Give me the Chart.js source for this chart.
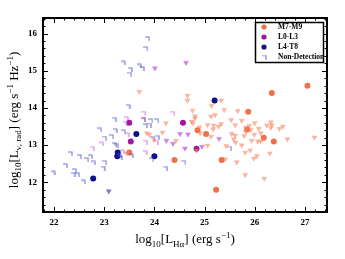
<!DOCTYPE html>
<html>
<head>
<meta charset="utf-8">
<script src="https://cdn.jsdelivr.net/npm/chart.js@4.4.1/dist/chart.umd.min.js"></script>
<style>
  html, body { margin: 0; padding: 0; background: #fff; }
  #wrap { width: 345px; height: 259px; }
</style>
</head>
<body>
<div id="wrap"><canvas id="radioChart" width="345" height="259"></canvas></div>
<script>
// ---- data: [log L_Halpha, log L_nu,rad] ----
const xTicks = [22, 23, 24, 25, 26, 27];
const yTicks = [12, 13, 14, 15, 16];

const m7m9Det = [
  [23.50, 12.80], [24.40, 12.60], [24.86, 13.40], [25.03, 13.30], [25.34, 12.60],
  [25.23, 11.80], [25.87, 13.90], [25.85, 13.42], [26.34, 14.40], [26.18, 13.20],
  [26.38, 13.10], [27.05, 14.60]
];
const l0l3Det = [[23.50, 13.60], [23.53, 13.10], [24.57, 13.60], [24.84, 12.90]];
const l4t8Det = [[22.78, 12.10], [23.27, 12.80], [23.26, 12.70], [23.64, 13.30], [24.00, 12.70], [25.20, 14.20]];

// upper limits (radio non-detections)
const m7m9Lim = [
  [23.70, 14.44], [24.66, 14.33], [24.66, 14.20], [25.33, 14.20], [25.14, 14.06], [25.39, 13.95],
  [24.76, 13.93], [25.66, 13.92], [24.81, 13.78], [25.13, 13.77], [25.21, 13.81], [24.81, 13.72],
  [24.74, 13.63], [24.77, 13.59], [25.33, 13.57], [25.28, 13.50], [25.17, 13.43], [25.06, 13.54],
  [24.90, 13.48], [24.91, 13.32], [24.23, 13.59], [24.16, 13.34], [23.85, 13.32], [23.90, 13.28],
  [23.99, 13.14], [24.43, 13.12], [25.06, 12.99], [25.41, 12.62], [25.64, 12.54], [25.53, 13.68],
  [25.61, 13.54], [25.54, 13.30], [25.61, 13.26], [25.58, 13.16], [25.62, 13.07], [25.43, 12.98],
  [25.13, 13.23], [25.18, 13.53], [25.74, 13.66], [26.00, 13.59], [25.89, 13.52], [25.82, 13.47],
  [25.92, 13.41], [25.82, 13.36], [26.08, 13.44], [26.24, 13.53], [26.32, 13.62], [26.34, 13.54],
  [26.32, 13.47], [26.49, 13.44], [26.56, 13.50], [25.79, 13.25], [25.99, 13.28], [26.12, 13.32],
  [25.94, 13.12], [26.06, 13.10], [26.12, 13.10], [26.65, 13.16], [27.19, 13.21], [25.74, 13.00],
  [25.91, 12.86], [25.81, 12.80], [26.04, 12.71], [25.98, 12.64], [26.30, 12.78], [25.81, 12.20],
  [26.19, 12.10], [24.84, 12.85], [23.45, 12.78]
];
const l0l3LimTri = [
  [24.63, 15.22], [24.01, 15.07], [24.24, 13.12], [24.37, 13.04], [24.51, 13.30],
  [24.67, 13.29], [24.61, 12.91], [24.95, 12.96], [25.29, 13.17]
];
const l0l3LimCorner = [
  [23.44, 13.71], [23.42, 13.59], [23.79, 13.86], [23.79, 13.68], [22.95, 13.03], [23.82, 13.08],
  [24.04, 13.08], [23.82, 12.79], [22.76, 12.92], [24.37, 13.86], [23.46, 13.28], [23.36, 12.82]
];
const l4t8LimCorner = [
  [23.87, 15.87], [23.83, 15.60], [23.38, 15.21], [23.70, 15.13], [23.76, 15.06], [23.52, 15.04],
  [23.51, 14.91], [23.48, 14.04], [23.20, 13.70], [22.91, 13.41], [23.22, 13.39], [23.01, 13.19],
  [23.15, 13.23], [23.20, 13.01], [23.24, 13.00], [22.33, 12.77], [22.51, 12.69], [22.65, 12.61],
  [22.73, 12.69], [22.79, 12.52], [23.01, 12.54], [22.98, 12.38], [22.23, 12.45], [22.41, 12.32],
  [22.38, 12.21], [22.47, 12.21], [22.59, 12.01], [21.98, 12.25], [23.32, 12.67], [23.39, 13.36],
  [23.54, 12.71], [23.78, 13.70], [23.93, 13.66], [24.05, 13.66], [23.82, 13.52], [23.90, 13.54],
  [24.06, 13.21], [23.97, 13.18], [23.95, 12.61], [24.22, 12.38], [24.59, 12.54], [25.50, 12.92],
  [23.30, 12.72]
];
const l4t8LimTri = [[23.09, 11.76]];

const colM = '#f0704a', colL0 = '#a0189e', colL4 = '#10108a';
const limM = 'rgba(248,128,90,0.55)', limL0 = 'rgba(180,60,200,0.6)', limL4 = 'rgba(70,70,200,0.7)';

const pts = arr => arr.map(p => ({ x: p[0], y: p[1] }));

// corner-shaped upper-limit marker
function cornerMark(color) {
  const c = document.createElement('canvas');
  c.width = 5; c.height = 5;
  const g = c.getContext('2d');
  g.strokeStyle = color;
  g.lineWidth = 1.2;
  g.beginPath();
  g.moveTo(0, 1); g.lineTo(4, 1); g.lineTo(4, 5);
  g.stroke();
  return c;
}
const cornerL4 = cornerMark(limL4), cornerL0 = cornerMark(limL0);

function triSet(data, color) {
  return { data: pts(data), pointStyle: 'triangle', rotation: 180, radius: 2.8,
    backgroundColor: color, borderColor: color, borderWidth: 0.5 };
}
function cornerSet(data, img) {
  return { data: pts(data), pointStyle: img, radius: 3 };
}
function dotSet(data, color) {
  return { data: pts(data), pointStyle: 'circle', radius: 3,
    backgroundColor: color, borderColor: color, borderWidth: 0 };
}

function rich(ctx, parts, big, small) {
  let w = 0;
  parts.forEach(p => {
    ctx.font = (p[1] ? small : big) + 'px "Liberation Serif", "DejaVu Serif", serif';
    p.w = ctx.measureText(p[0]).width; w += p.w;
  });
  let x = -w / 2;
  parts.forEach(p => {
    ctx.font = (p[1] ? small : big) + 'px "Liberation Serif", "DejaVu Serif", serif';
    const dy = p[1] === 'sub' ? 3.5 : (p[1] === 'sup' ? -5 : 0);
    ctx.fillText(p[0], x, dy);
    x += p.w;
  });
}

const decor = {
  id: 'decor',
  afterDraw(chart) {
    const ctx = chart.ctx, a = chart.chartArea;
    const sx = chart.scales.x, sy = chart.scales.y;
    ctx.save();
    ctx.strokeStyle = '#000';
    ctx.lineWidth = 1;
    ctx.beginPath();
    // inward ticks on all four sides
    for (let v = 21.8; v <= 27.45; v += 0.2) {
      const major = Math.abs(v - Math.round(v)) < 0.01;
      const len = major ? 5 : 2.5;
      const px = Math.round(sx.getPixelForValue(v)) + 0.5;
      ctx.moveTo(px, a.bottom); ctx.lineTo(px, a.bottom - len);
      ctx.moveTo(px, a.top); ctx.lineTo(px, a.top + len);
    }
    for (let v = 11.2; v <= 16.41; v += 0.2) {
      const major = Math.abs(v - Math.round(v)) < 0.01;
      const len = major ? 5 : 2.5;
      const py = Math.round(sy.getPixelForValue(v)) + 0.5;
      ctx.moveTo(a.left, py); ctx.lineTo(a.left + len, py);
      ctx.moveTo(a.right, py); ctx.lineTo(a.right - len, py);
    }
    ctx.stroke();
    ctx.lineWidth = 2;
    ctx.strokeRect(a.left, a.top, a.right - a.left, a.bottom - a.top);

    // legend
    const lx = 255.5, ly = 22.5, lw = 68, lh = 40;
    ctx.fillStyle = '#fff';
    ctx.fillRect(lx, ly, lw, lh);
    ctx.lineWidth = 1.5;
    ctx.strokeRect(lx, ly, lw, lh);
    const items = [['M7-M9', colM, 'dot'], ['L0-L3', colL0, 'dot'], ['L4-T8', colL4, 'dot'], ['Non-Detection', limL4, 'corner']];
    ctx.font = 'bold 7.5px "Liberation Serif", serif';
    ctx.textBaseline = 'middle';
    items.forEach((it, i) => {
      const yy = 27 + i * 10;
      if (it[2] === 'dot') {
        ctx.fillStyle = it[1];
        ctx.beginPath(); ctx.arc(264, yy, 2.6, 0, Math.PI * 2); ctx.fill();
      } else {
        ctx.drawImage(cornerL4, 262, yy - 2.5);
      }
      ctx.fillStyle = '#000';
      ctx.fillText(it[0], 278, yy);
    });

    // axis titles
    ctx.fillStyle = '#000';
    ctx.textBaseline = 'alphabetic';
    ctx.save();
    ctx.translate((a.left + a.right) / 2, 243);
    rich(ctx, [['log'], ['10', 'sub'], ['[L'], ['H\u03b1', 'sub'], ['] (erg s'], ['\u22121', 'sup'], [')']], 13, 9);
    ctx.restore();
    ctx.save();
    ctx.translate(17.5, (a.top + a.bottom) / 2 + 5);
    ctx.rotate(-Math.PI / 2);
    rich(ctx, [['log'], ['10', 'sub'], ['[L'], ['\u03bd, rad', 'sub'], ['] (erg s'], ['\u22121', 'sup'], [' Hz'], ['\u22121', 'sup'], [')']], 13, 9);
    ctx.restore();
    ctx.restore();
  }
};

const tickFont = { family: '"Liberation Serif", serif', size: 9, weight: 'bold' };

new Chart(document.getElementById('radioChart').getContext('2d'), {
  type: 'scatter',
  data: {
    datasets: [
      triSet(m7m9Lim, limM),
      triSet(l0l3LimTri, limL0),
      cornerSet(l0l3LimCorner, cornerL0),
      cornerSet(l4t8LimCorner, cornerL4),
      triSet(l4t8LimTri, limL4),
      dotSet(m7m9Det, colM),
      dotSet(l0l3Det, colL0),
      dotSet(l4t8Det, colL4)
    ]
  },
  options: {
    responsive: false,
    animation: false,
    layout: { padding: { top: 18, right: 18, left: 0, bottom: 0 } },
    plugins: { legend: { display: false }, tooltip: { enabled: false } },
    scales: {
      x: {
        type: 'linear', min: 21.78, max: 27.44,
        grid: { display: false, drawTicks: false },
        border: { display: false },
        afterBuildTicks: s => { s.ticks = xTicks.map(v => ({ value: v })); },
        afterFit: s => { s.height = 47; },
        ticks: { font: tickFont, color: '#000', padding: 5, maxRotation: 0 }
      },
      y: {
        type: 'linear', min: 11.2, max: 16.42,
        grid: { display: false, drawTicks: false },
        border: { display: false },
        afterBuildTicks: s => { s.ticks = yTicks.map(v => ({ value: v })); },
        afterFit: s => { s.width = 43; },
        ticks: { font: tickFont, color: '#000', padding: 6 }
      }
    }
  },
  plugins: [decor]
});
</script>
</body>
</html>
